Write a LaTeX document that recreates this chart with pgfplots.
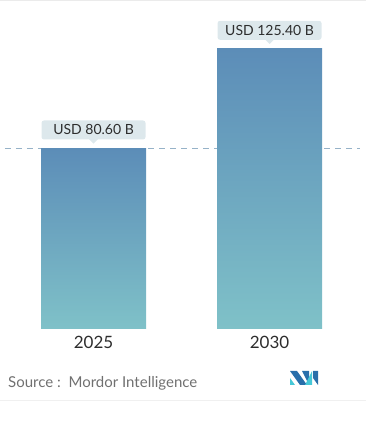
\documentclass[border=0pt]{standalone}
\usepackage{fontspec}
\setmainfont{Lato}
\usepackage{pgfplots}
\pgfplotsset{compat=1.18}
\definecolor{bartop}{RGB}{92,141,184}
\definecolor{barbot}{RGB}{127,193,200}
\definecolor{boxc}{RGB}{221,232,236}
\definecolor{dashc}{RGB}{150,178,200}
\definecolor{txt}{RGB}{45,45,45}
\definecolor{srcc}{RGB}{112,112,112}
\definecolor{logob}{RGB}{40,110,170}
\definecolor{logot}{RGB}{70,200,215}
\tikzset{lbl/.style={fill=boxc, rounded corners=2.5pt, minimum width=104pt, minimum height=19pt,
    inner sep=0pt, font=\fontsize{14}{16}\selectfont, text=txt, anchor=south, yshift=9pt}}
\begin{document}
\begin{tikzpicture}[x=1pt,y=1pt]
\path[use as bounding box] (0,0) rectangle (366,421);
\draw[black!8, line width=1pt] (0,420.5) -- (366,420.5);
\draw[black!6, line width=0.8pt] (0,21) -- (366,21);
\begin{axis}[
  at={(5pt,93pt)}, anchor=south west,
  scale only axis, width=355pt, height=279pt,
  xmin=-0.503, xmax=1.514, ymin=0, ymax=125.4,
  axis line style={draw=none}, major tick length=0pt,
  ytick=\empty, xtick={0,1}, xticklabels={2025,2030},
  xticklabel style={font=\fontsize{17}{19}\selectfont, text=txt, yshift=-5pt},
  clip=false,
]
\addplot[dashc, line width=1pt, dash pattern=on 6pt off 5pt, forget plot] coordinates {(-0.503,80.6) (1.514,80.6)};
\addplot[ybar, bar width=105pt, draw=none, shade, top color=bartop, bottom color=barbot]
  coordinates {(0,80.6)};
\addplot[ybar, bar width=105pt, draw=none, shade, top color=bartop, bottom color=barbot]
  coordinates {(1,125.4)};
\node[lbl] at (axis cs:0,80.6) {USD 80.60 B};
\node[lbl] at (axis cs:1,125.4) {USD 125.40 B};
\fill[boxc] ([yshift=5pt]axis cs:0,80.6) -- ++(-4.5pt,4.5pt) -- ++(9pt,0pt) -- cycle;
\fill[boxc] ([yshift=5pt]axis cs:1,125.4) -- ++(-4.5pt,4.5pt) -- ++(9pt,0pt) -- cycle;
\end{axis}
\node[anchor=base west, text=srcc, font=\fontsize{15}{17}\selectfont, inner sep=0pt] at (8,33) {Source :\ \ Mordor Intelligence};
% logo
\fill[logot] (290,36) -- (295,36) -- (290,43) -- cycle;
\fill[logob] (290,50) -- (297,50) -- (307,36) -- (300,36) -- cycle;
\fill[logob] (302,50) -- (309,50) -- (309,36) -- cycle;
\fill[logot] (305,36) -- (312,50) -- (312,36) -- cycle;
\fill[logob] (313,50) -- (318,50) -- (318,36) -- (313,43) -- cycle;
\end{tikzpicture}
\end{document}
